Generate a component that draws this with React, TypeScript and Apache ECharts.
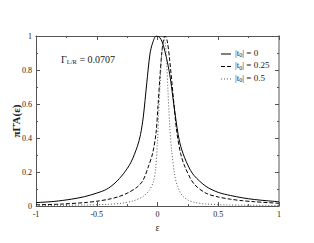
import React, { useEffect, useRef } from "react";
import * as echarts from "echarts";

const solidX = [-1, -0.85, -0.71, -0.6, -0.5, -0.42, -0.35, -0.28, -0.22, -0.166, -0.14, -0.117, -0.089, -0.062, -0.04, -0.01, 0.02, 0.05, 0.089, 0.11, 0.13, 0.17, 0.2, 0.25, 0.3, 0.4, 0.5, 0.6, 0.7, 0.8, 0.9, 1];
const solidY = [0.02, 0.027, 0.04, 0.055, 0.076, 0.098, 0.135, 0.19, 0.255, 0.35, 0.42, 0.524, 0.718, 0.894, 0.96, 1.0, 0.99, 0.94, 0.82, 0.73, 0.62, 0.42, 0.33, 0.24, 0.18, 0.115, 0.08, 0.062, 0.048, 0.038, 0.031, 0.025];

const dashedX = [-1, -0.8, -0.6, -0.5, -0.4, -0.32, -0.25, -0.17, -0.12, -0.076, -0.04, -0.012, 0.005, 0.02, 0.035, 0.05, 0.062, 0.08, 0.1, 0.13, 0.158, 0.19, 0.226, 0.3, 0.4, 0.5, 0.6, 0.7, 0.8, 1];
const dashedY = [0.007, 0.011, 0.02, 0.028, 0.04, 0.055, 0.075, 0.11, 0.15, 0.23, 0.31, 0.43, 0.6, 0.76, 0.9, 0.98, 1.0, 0.97, 0.86, 0.64, 0.44, 0.31, 0.23, 0.13, 0.075, 0.053, 0.04, 0.031, 0.025, 0.016];

const dottedX = [-1, -0.6, -0.4, -0.3, -0.2, -0.12, -0.07, -0.035, -0.015, 0, 0.01, 0.02, 0.033, 0.045, 0.055, 0.065, 0.075, 0.086, 0.1, 0.117, 0.14, 0.158, 0.2, 0.25, 0.3, 0.4, 0.6, 1];
const dottedY = [0.003, 0.006, 0.01, 0.016, 0.03, 0.055, 0.09, 0.14, 0.22, 0.38, 0.55, 0.7, 0.87, 0.96, 0.98, 0.95, 0.85, 0.68, 0.48, 0.32, 0.19, 0.13, 0.065, 0.035, 0.022, 0.012, 0.006, 0.003];

const seriesNames = ["|t0| = 0", "|t0| = 0.25", "|t0| = 0.5"];
const legendValues = ["0", "0.25", "0.5"];

const FONT = "Liberation Serif";

function pairs(xs: number[], ys: number[]) {
  return xs.map((x, i) => [x, ys[i]]);
}

export default function App() {
  const ref = useRef<HTMLDivElement>(null);
  useEffect(() => {
    if (!ref.current) return;
    const chart = echarts.init(ref.current, null, { renderer: "svg" });
    const fmt = (v: number) => String(v);
    const common = {
      type: "value" as const,
      axisLine: { show: true, onZero: false, lineStyle: { color: "#555", width: 1 } },
      axisTick: { show: true, inside: true, length: 4, lineStyle: { color: "#555" } },
      minorTick: { show: true, splitNumber: 2, length: 2, lineStyle: { color: "#555" } },
      splitLine: { show: false },
      minorSplitLine: { show: false },
    };
    const dashes: any[] = ["solid", [4, 2], [1, 2]];
    const colors = ["#000", "#000", "#555"];
    const legendGraphics: any[] = [];
    legendValues.forEach((v, i) => {
      const y = 54 + i * 12.5;
      legendGraphics.push({
        type: "line",
        shape: { x1: 221, y1: y, x2: 231, y2: y },
        style: { stroke: colors[i], lineWidth: 1, lineDash: dashes[i] === "solid" ? null : dashes[i] },
      });
      legendGraphics.push({
        type: "text",
        left: 235,
        top: y - 6,
        style: {
          text: "|t{s|0}| = " + v,
          fontFamily: FONT,
          fontSize: 9,
          fill: "#222",
          rich: { s: { fontFamily: FONT, fontSize: 6, padding: [5, 0, 0, 0], fill: "#222" } },
        },
      });
    });
    chart.setOption({
      animation: false,
      backgroundColor: "#fff",
      grid: { left: 36, right: 35, top: 36, bottom: 37, outerBoundsMode: "none" },
      xAxis: [
        {
          ...common,
          min: -1,
          max: 1,
          interval: 0.5,
          position: "bottom",
          axisLabel: { show: true, fontFamily: FONT, fontSize: 8, color: "#222", margin: 4, formatter: fmt },
          name: "ε",
          nameLocation: "middle",
          nameGap: 11,
          nameTextStyle: { fontFamily: FONT, fontSize: 10, color: "#222" },
        },
        {
          ...common,
          min: -1,
          max: 1,
          interval: 0.5,
          position: "top",
          axisLabel: { show: false },
        },
      ],
      yAxis: [
        {
          ...common,
          min: 0,
          max: 1,
          interval: 0.2,
          position: "left",
          axisLabel: { show: true, fontFamily: FONT, fontSize: 8, color: "#222", margin: 4, formatter: fmt },
          name: "πΓ̄A(ε)",
          nameLocation: "middle",
          nameGap: 15,
          nameMoveOverlap: false,
          nameTextStyle: { fontFamily: FONT, fontSize: 11, color: "#222", fontWeight: "bold" },
        },
        {
          ...common,
          min: 0,
          max: 1,
          interval: 0.2,
          position: "right",
          axisLine: { show: true, onZero: false, lineStyle: { color: "#aaa", width: 2 } },
          axisLabel: { show: false },
        },
      ],
      graphic: [
        {
          type: "text",
          left: 61,
          top: 54,
          style: {
            text: "Γ{s|L/R} = 0.0707",
            fontFamily: FONT,
            fontSize: 10,
            fill: "#222",
            rich: { s: { fontFamily: FONT, fontSize: 6.5, padding: [5, 0, 0, 0], fill: "#222" } },
          },
        },
        ...legendGraphics,
      ],
      series: [solidX, dashedX, dottedX].map((xs, i) => ({
        name: seriesNames[i],
        type: "line",
        data: pairs(xs, [solidY, dashedY, dottedY][i]),
        smooth: 0.3,
        showSymbol: false,
        symbol: "none",
        lineStyle: { color: colors[i], width: 1, type: dashes[i] },
        itemStyle: { color: colors[i] },
      })),
    });
    return () => chart.dispose();
  }, []);
  return <div ref={ref} style={{ width: 314, height: 243, position: "absolute", left: 0, top: 0 }} />;
}
